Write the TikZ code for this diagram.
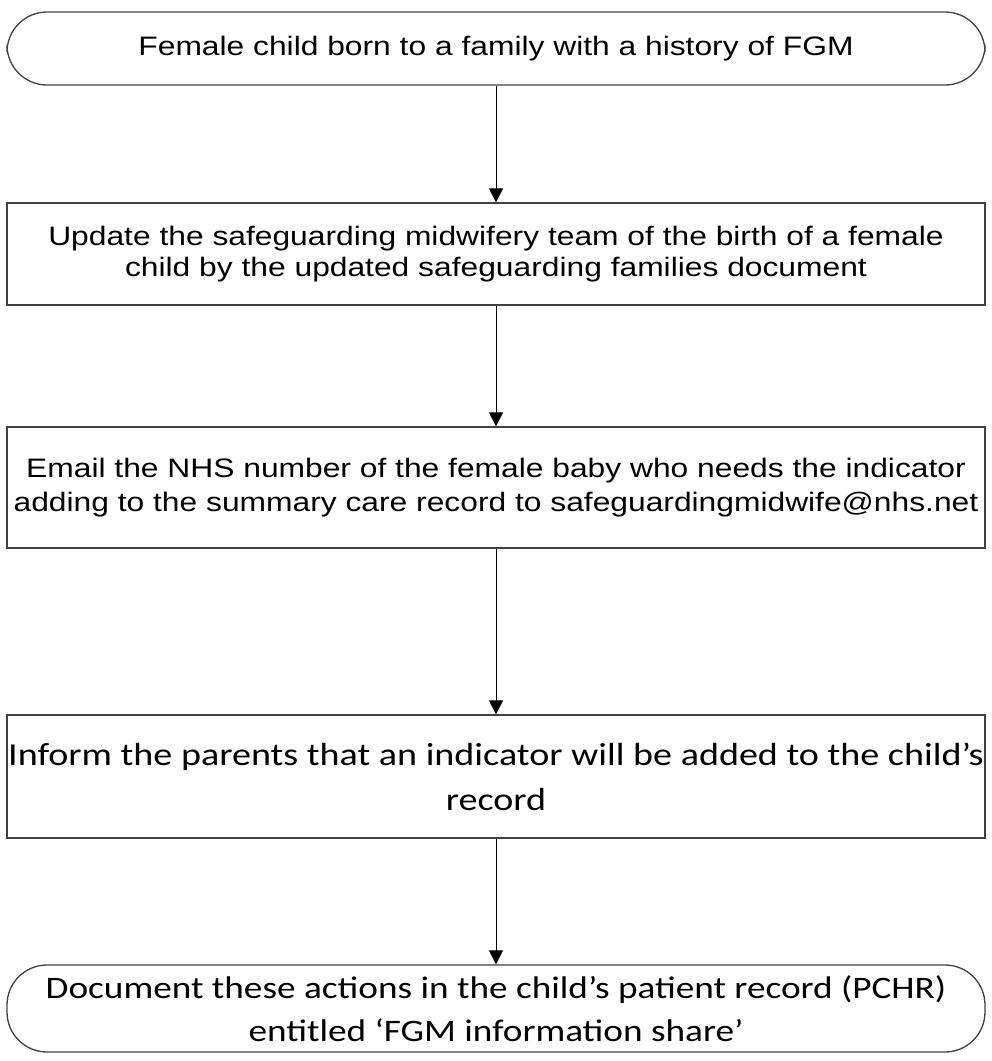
\documentclass[tikz,border=0pt]{standalone}
\usepackage{graphicx}
\usepackage{fontspec}
\setmainfont{Liberation Sans}
\newfontfamily\calibri{Carlito}
\usetikzlibrary{arrows.meta}
% the source picture is stretched sideways
\newcommand{\wide}[1]{\scalebox{1.19}[1]{#1}}
\tikzset{
  stepbox/.style={draw=black!75, line width=1.3pt, minimum width=978pt, align=center, inner sep=0pt},
  termbox/.style={stepbox, rounded corners=40pt},
  arialtext/.style={font=\fontsize{26.7}{31}\selectfont},
  bigarial/.style={font=\fontsize{26.7}{34}\selectfont},
  calibritext/.style={font=\calibri\fontsize{32}{45}\selectfont},
  endtext/.style={font=\calibri\fontsize{31.3}{43}\selectfont},
  flow/.style={-{Triangle[length=14pt,width=14pt]}, line width=1pt}
}
\begin{document}
\begin{tikzpicture}[x=1pt,y=1pt]
  \useasboundingbox (0,0) rectangle (992,-1061);
  \node[termbox, arialtext, minimum height=73pt] (born) at (496,-48.5)
    {\wide{Female child born to a family with a history of FGM}};
  \node[stepbox, arialtext, minimum height=102pt] (update) at (496,-254)
    {\wide{Update the safeguarding midwifery team of the birth of a female}\\
     \wide{child by the updated safeguarding families document}};
  \node[stepbox, bigarial, minimum height=121pt] (email) at (496,-487.5)
    {\wide{Email the NHS number of the female baby who needs the indicator}\\
     \wide{adding to the summary care record to safeguardingmidwife@nhs.net}};
  \node[stepbox, calibritext, minimum height=123pt] (inform) at (496,-776.5)
    {\wide{Inform the parents that an indicator will be added to the child’s}\\
     \wide{record}};
  \node[termbox, endtext, minimum height=87pt] (document) at (496,-1008.5)
    {\wide{Document these actions in the child’s patient record (PCHR)}\\
     \wide{entitled ‘FGM information share’}};
  % connectors
  \draw[flow] (born) -- (update);
  \draw[flow] (update) -- (email);
  \draw[flow] (email) -- (inform);
  \draw[flow] (inform) -- (document);
\end{tikzpicture}
\end{document}
